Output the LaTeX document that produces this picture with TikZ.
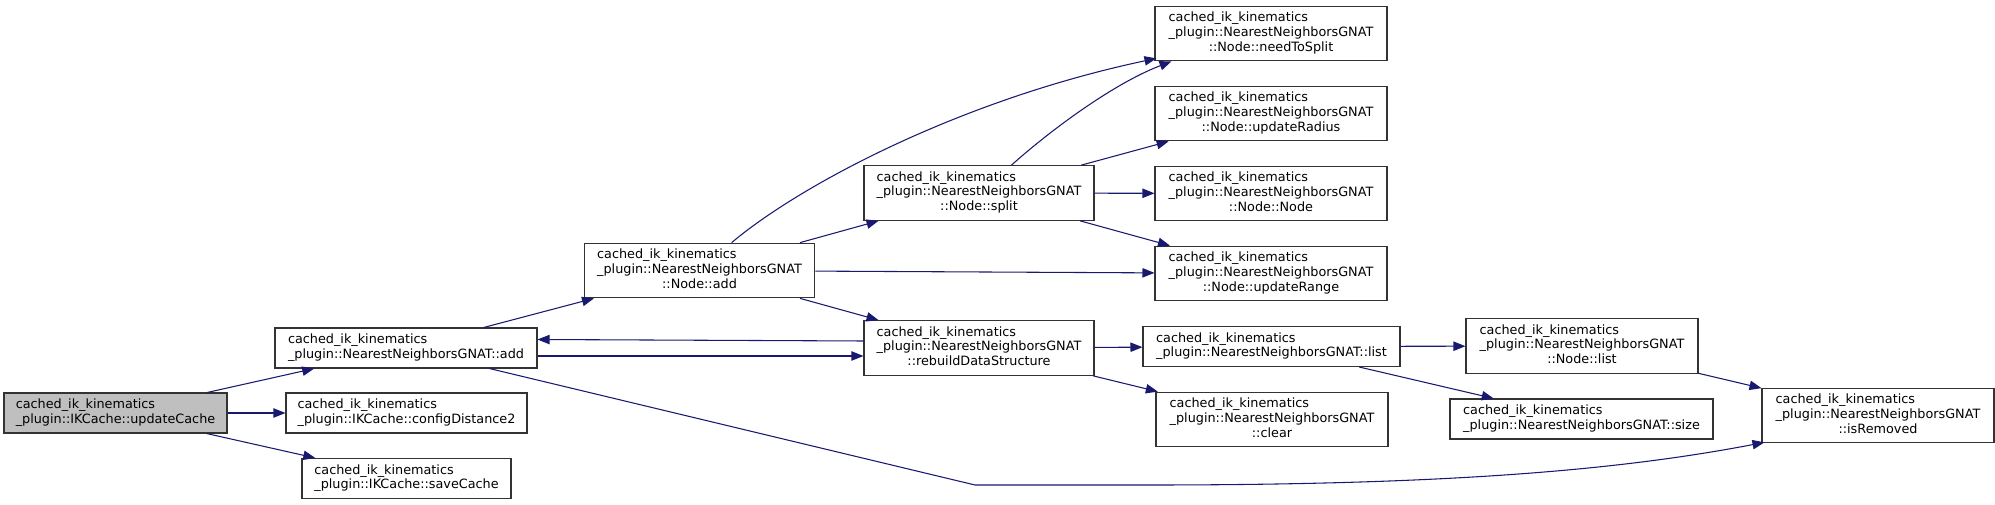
\documentclass[tikz,border=0pt]{standalone}
\usepackage{fontspec}
\setmainfont{DejaVu Sans}
\usetikzlibrary{arrows.meta,calc}
\definecolor{midnight}{HTML}{191970}
\definecolor{callergray}{HTML}{BFBFBF}
% two-line and three-line function labels
\newcommand{\ikname}[1]{\begin{tabular}{@{}l@{}}cached\_ik\_kinematics\\\_plugin::#1\end{tabular}}
\newcommand{\gnatname}[1]{\begin{tabular}{@{}l@{}}cached\_ik\_kinematics\\\_plugin::NearestNeighborsGNAT\\\multicolumn{1}{@{}c@{}}{#1}\end{tabular}}
\begin{document}
\begin{tikzpicture}[x=0.75pt, y=-0.75pt,
    fn/.style={draw=black!80, line width=0.8pt, fill=white, inner sep=0pt,
      font=\fontsize{9.6}{11}\selectfont, minimum height=30pt},
    tall/.style={minimum height=41pt},
    call/.style={draw=midnight, line width=0.8pt, -{Triangle[length=9pt,width=7pt]}}]
    \useasboundingbox (0,0) rectangle (1995,505);

    % caller
    \node[fn, fill=callergray, minimum width=167.25pt] (uc) at (115.5,413) {\ikname{IKCache::updateCache}};

    % first level
    \node[fn, minimum width=196.5pt] (add) at (406,348) {\ikname{NearestNeighborsGNAT::add}};
    \node[fn, minimum width=180.75pt] (cfg) at (406.5,413) {\ikname{IKCache::configDistance2}};
    \node[fn, minimum width=156.75pt] (save) at (406.5,478.5) {\ikname{IKCache::saveCache}};

    % second level
    \node[fn, tall, minimum width=173pt] (nadd) at (699.5,270.5) {\gnatname{::Node::add}};
    \node[fn, tall, minimum width=172.5pt] (split) at (979,193) {\gnatname{::Node::split}};
    \node[fn, tall, minimum width=172.5pt] (rebuild) at (979,348) {\gnatname{::rebuildDataStructure}};

    % third level
    \node[fn, tall, minimum width=174pt] (needsplit) at (1271,33.5) {\gnatname{::Node::needToSplit}};
    \node[fn, tall, minimum width=174pt] (radius) at (1271,113.5) {\gnatname{::Node::updateRadius}};
    \node[fn, tall, minimum width=174pt] (nnode) at (1271,193.5) {\gnatname{::Node::Node}};
    \node[fn, tall, minimum width=174pt] (range) at (1271,273.5) {\gnatname{::Node::updateRange}};
    \node[fn, minimum width=192.75pt] (list) at (1271.5,346.5) {\ikname{NearestNeighborsGNAT::list}};
    \node[fn, tall, minimum width=174pt] (clear) at (1272,419.5) {\gnatname{::clear}};

    % fourth level
    \node[fn, tall, minimum width=174pt] (nlist) at (1582,346) {\gnatname{::Node::list}};
    \node[fn, minimum width=197.25pt] (size) at (1581.5,419) {\ikname{NearestNeighborsGNAT::size}};
    \node[fn, tall, minimum width=174pt] (isrem) at (1878,415.5) {\gnatname{::isRemoved}};

    % calls from updateCache
    \draw[call] (uc) -- (add);
    \draw[call] (uc) -- (cfg);
    \draw[call] (uc) -- (save);

    % calls from add
    \draw[call] (add) -- (nadd);
    \draw[call] ($(add.east)+(0,8)$) -- ($(rebuild.west)+(0,8)$);
    \draw[call] ($(rebuild.west)+(0,-7)$) -- ($(add.east)+(0,-8.5)$);
    \draw[call] ($(add.south west)+(215,0)$) -- (975,485) -- (1150,485)
        .. controls (1450,485) and (1620,470) .. ($(isrem.south west)+(3,-1)$);

    % calls from Node::add
    \draw[call] ($(nadd.north west)+(148,0)$) .. controls (800,185) and (960,100) .. ($(needsplit.south west)+(2,-3)$);
    \draw[call] (nadd) -- (split);
    \draw[call] (nadd) -- (range);
    \draw[call] (nadd) -- (rebuild);

    % calls from split
    \draw[call] ($(split.north west)+(148,0)$) .. controls (1045,135) and (1110,85) .. ($(needsplit.south west)+(17,0)$);
    \draw[call] (split) -- (radius);
    \draw[call] (split) -- (nnode);
    \draw[call] (split) -- (range);

    % calls from rebuildDataStructure and list
    \draw[call] (rebuild) -- (list);
    \draw[call] (rebuild) -- (clear);
    \draw[call] (list) -- (nlist);
    \draw[call] (list) -- (size);
    \draw[call] (nlist) -- (isrem);
\end{tikzpicture}
\end{document}
